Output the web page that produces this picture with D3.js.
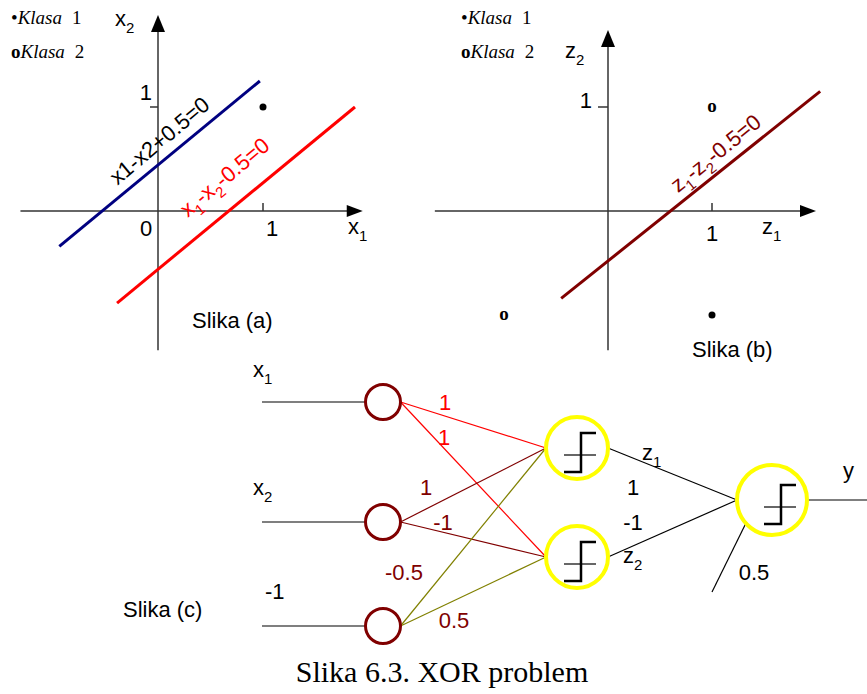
<!DOCTYPE html>
<html>
<head>
<meta charset="utf-8">
<script src="https://cdn.jsdelivr.net/npm/d3@7/dist/d3.min.js"></script>
<style>
  body { margin: 0; background: #fff; }
  svg { display: block; }
  .sans { font-family: Arial, "Liberation Sans", sans-serif; }
  .serif { font-family: "Times New Roman", "Liberation Serif", serif; }
</style>
</head>
<body>
<div class="plot"></div>
<script>
// ---- data ----
const axisTicks = [1];
const legendItems = ['Klasa', 'Klasa'];
const legendNumbers = ['1', '2'];

// panel (a): x1/x2 plane
const class1A = [[1, 1]];
const boundaryBlue = [[-0.94, -0.34], [0.97, 1.25]];   // x1-x2+0.5=0
const boundaryRed = [[-0.39, -0.885], [1.876, 1.0]];   // x1-x2-0.5=0

// panel (b): z1/z2 plane
const class1B = [[1, -1]];
const class2B = [[1, 1], [-1, -1]];
const boundaryB = [[-0.45, -0.84], [2.04, 1.15]];      // z1-z2-0.5=0

// panel (c): network
const inputLabels = [['x', '1'], ['x', '2'], ['-1', '']];
const hiddenWeights = [[1, 1], [1, -1], [-0.5, 0.5]];  // rows: x1, x2, bias
const outputWeights = [1, -1];
const outputBias = 0.5;

// ---- layout ----
const W = 867, H = 694;
const svg = d3.select('.plot').append('svg')
	.attr('width', W)
	.attr('height', H);

const axisColor = '#333';

// scales for the two planes
const xA = d3.scaleLinear().domain([0, 1]).range([158, 263]);
const yA = d3.scaleLinear().domain([0, 1]).range([211, 107]);
const xB = d3.scaleLinear().domain([0, 1]).range([608, 712]);
const yB = d3.scaleLinear().domain([0, 1]).range([211, 107]);

// text with subscripts: parts = [[text, isSub], ...]
function richText(g, x, y, parts, opts) {
	const size = opts.size || 22;
	const t = g.append('text')
		.attr('x', x)
		.attr('y', y)
		.attr('class', opts.cls || 'sans')
		.attr('font-size', size)
		.attr('fill', opts.color || '#000')
		.attr('text-anchor', opts.anchor || 'start');
	if (opts.rotate != null) t.attr('transform', `rotate(${opts.rotate},${x},${y})`);
	let shifted = false;
	parts.forEach(([s, sub]) => {
		if (!s) return;
		const ts = t.append('tspan').text(s);
		if (sub) {
			ts.attr('font-size', size * 0.68).attr('dy', shifted ? 0 : size * 0.3);
			shifted = true;
		} else {
			if (shifted) ts.attr('dy', -size * 0.3);
			shifted = false;
		}
	});
	return t;
}

function drawAxes(g, xs, ys, xExt, yExt, yTickLen) {
	const x0 = xs(0), y0 = ys(0);
	g.append('line')
		.attr('x1', xs(xExt[0])).attr('x2', xs(xExt[1]) - 12)
		.attr('y1', y0).attr('y2', y0)
		.attr('stroke', axisColor).attr('stroke-width', 1.5);
	g.append('line')
		.attr('x1', x0).attr('x2', x0)
		.attr('y1', ys(yExt[0])).attr('y2', ys(yExt[1]) + 12)
		.attr('stroke', axisColor).attr('stroke-width', 1.5);
	// arrowheads
	const xt = xs(xExt[1]), yt = ys(yExt[1]);
	g.append('path')
		.attr('d', `M${xt},${y0}L${xt - 16},${y0 - 6}L${xt - 16},${y0 + 6}Z`)
		.attr('fill', '#000');
	g.append('path')
		.attr('d', `M${x0},${yt}L${x0 - 7},${yt + 17}L${x0 + 7},${yt + 17}Z`)
		.attr('fill', '#000');
	// ticks
	g.selectAll('.xtick').data(axisTicks).enter().append('line')
		.attr('x1', d => xs(d)).attr('x2', d => xs(d))
		.attr('y1', y0).attr('y2', y0 - 8)
		.attr('stroke', axisColor).attr('stroke-width', 1.5);
	g.selectAll('.ytick').data(axisTicks).enter().append('line')
		.attr('x1', x0 - yTickLen).attr('x2', x0)
		.attr('y1', d => ys(d)).attr('y2', d => ys(d))
		.attr('stroke', axisColor).attr('stroke-width', 1.5);
}

function drawLegend(g, x) {
	const rows = g.selectAll('.legend').data(legendItems).enter().append('text')
		.attr('class', 'serif')
		.attr('x', x)
		.attr('y', (d, i) => 24 + i * 34)
		.attr('font-size', 19);
	rows.append('tspan')
		.attr('font-weight', (d, i) => i === 1 ? 'bold' : 'normal')
		.text((d, i) => i === 0 ? '\u2022' : 'o');
	rows.append('tspan').attr('font-style', 'italic').text(d => d);
	rows.append('tspan').attr('dx', 10).text((d, i) => legendNumbers[i]);
}

function drawLine(g, xs, ys, pts, color) {
	g.append('path')
		.attr('d', d3.line().x(d => xs(d[0])).y(d => ys(d[1]))(pts))
		.attr('fill', 'none')
		.attr('stroke', color)
		.attr('stroke-width', 3);
}

// ---- panel (a) ----
const gA = svg.append('g');
drawLegend(gA, 11);
drawAxes(gA, xA, yA, [-1.31, 1.95], [-1.34, 1.885], 8);
drawLine(gA, xA, yA, boundaryBlue, '#000080');
drawLine(gA, xA, yA, boundaryRed, '#ff0000');
gA.selectAll('.c1').data(class1A).enter().append('circle')
	.attr('cx', d => xA(d[0])).attr('cy', d => yA(d[1]))
	.attr('r', 3.5).attr('fill', '#000');

richText(gA, 115, 26, [['x', 0], ['2', 1]], {});
richText(gA, 152, 100, [['1', 0]], { anchor: 'end' });
richText(gA, 146, 236, [['0', 0]], { anchor: 'middle' });
richText(gA, 272, 236, [['1', 0]], { anchor: 'middle' });
richText(gA, 348, 234, [['x', 0], ['1', 1]], {});
richText(gA, 192, 328, [['Slika (a)', 0]], {});
richText(gA, xA(0.06), yA(0.62), [['x1-x2+0.5=0', 0]], { anchor: 'middle', rotate: -40 });
richText(gA, xA(0.68), yA(0.27), [['x', 0], ['1', 1], ['-x', 0], ['2', 1], ['-0.5=0', 0]],
	{ anchor: 'middle', rotate: -40, color: '#ff0000' });

// ---- panel (b) ----
const gB = svg.append('g');
drawLegend(gB, 461);
drawAxes(gB, xB, yB, [-1.665, 2.0], [-1.34, 1.74], 10);
drawLine(gB, xB, yB, boundaryB, '#800000');
gB.selectAll('.c1').data(class1B).enter().append('circle')
	.attr('cx', d => xB(d[0])).attr('cy', d => yB(d[1]))
	.attr('r', 3.5).attr('fill', '#000');
gB.selectAll('.c2').data(class2B).enter().append('text')
	.attr('class', 'serif')
	.attr('x', d => xB(d[0])).attr('y', d => yB(d[1]) + 4.5)
	.attr('text-anchor', 'middle')
	.attr('font-size', 19).attr('font-weight', 'bold')
	.text('o');

richText(gB, 565, 58, [['z', 0], ['2', 1]], {});
richText(gB, 592, 108, [['1', 0]], { anchor: 'end' });
richText(gB, 712, 241, [['1', 0]], { anchor: 'middle' });
richText(gB, 762, 234, [['z', 0], ['1', 1]], {});
richText(gB, 692, 357, [['Slika (b)', 0]], {});
richText(gB, xB(1.08), yB(0.5), [['z', 0], ['1', 1], ['-z', 0], ['2', 1], ['-0.5=0', 0]],
	{ anchor: 'middle', rotate: -39, color: '#800000' });

// ---- panel (c): network ----
const gC = svg.append('g');
const inNodes = { cx: 383, cy: [402, 522, 626], r: 17.5 };
const hidNodes = { cx: 577, cy: [448, 557], r: 31 };
const outNode = { cx: 772, cy: 500, r: 35 };
const edgeColors = ['#ff0000', '#800000', '#808000'];
const weightColors = ['#ff0000', '#800000', '#800000'];
const weightPos = [[[445, 410], [444, 445]], [[426, 495], [443, 530]], [[404, 580], [454, 628]]];
const inLabelPos = [[253, 377], [253, 495], [265, 599]];

// input lines
gC.selectAll('.inline').data(inNodes.cy).enter().append('line')
	.attr('x1', 262).attr('x2', inNodes.cx - inNodes.r)
	.attr('y1', d => d).attr('y2', d => d)
	.attr('stroke', '#000').attr('stroke-width', 1.2);

// input → hidden edges
hiddenWeights.forEach((row, i) => {
	row.forEach((w, j) => {
		gC.append('line')
			.attr('x1', inNodes.cx + inNodes.r).attr('y1', inNodes.cy[i])
			.attr('x2', hidNodes.cx - hidNodes.r).attr('y2', hidNodes.cy[j])
			.attr('stroke', edgeColors[i]).attr('stroke-width', 1.2);
		richText(gC, weightPos[i][j][0], weightPos[i][j][1], [[String(w), 0]],
			{ anchor: 'middle', color: weightColors[i] });
	});
});

// hidden → output edges
hidNodes.cy.forEach(cy => {
	gC.append('line')
		.attr('x1', hidNodes.cx + hidNodes.r).attr('y1', cy)
		.attr('x2', outNode.cx - outNode.r).attr('y2', outNode.cy)
		.attr('stroke', '#000').attr('stroke-width', 1.2);
});
// bias into output
gC.append('line')
	.attr('x1', 712).attr('y1', 592).attr('x2', 746).attr('y2', 523)
	.attr('stroke', '#000').attr('stroke-width', 1.2);
// output line
gC.append('line')
	.attr('x1', outNode.cx + outNode.r).attr('x2', W)
	.attr('y1', outNode.cy).attr('y2', outNode.cy)
	.attr('stroke', '#000').attr('stroke-width', 1.2);

// nodes
gC.selectAll('.in').data(inNodes.cy).enter().append('circle')
	.attr('cx', inNodes.cx).attr('cy', d => d).attr('r', inNodes.r)
	.attr('fill', '#fff').attr('stroke', '#800000').attr('stroke-width', 3);

function stepGlyph(cx, cy, dx) {
	gC.append('path')
		.attr('d', `M${cx - 13 + dx},${cy + 24}H${cx + 4 + dx}V${cy - 15}H${cx + 19 + dx}`)
		.attr('fill', 'none').attr('stroke', '#000').attr('stroke-width', 2.5);
	gC.append('line')
		.attr('x1', cx - 13 + dx).attr('x2', cx + 19 + dx)
		.attr('y1', cy + 7).attr('y2', cy + 7)
		.attr('stroke', '#000').attr('stroke-width', 1.2);
}

gC.selectAll('.hid').data(hidNodes.cy).enter().append('circle')
	.attr('cx', hidNodes.cx).attr('cy', d => d).attr('r', hidNodes.r)
	.attr('fill', '#fff').attr('stroke', '#ffff00').attr('stroke-width', 4);
hidNodes.cy.forEach(cy => stepGlyph(hidNodes.cx, cy, 0));

gC.append('circle')
	.attr('cx', outNode.cx).attr('cy', outNode.cy).attr('r', outNode.r)
	.attr('fill', '#fff').attr('stroke', '#ffff00').attr('stroke-width', 4);
stepGlyph(outNode.cx, outNode.cy, 5);

// labels
inputLabels.forEach((d, i) => {
	richText(gC, inLabelPos[i][0], inLabelPos[i][1], [[d[0], 0], [d[1], 1]], {});
});
richText(gC, 642, 460, [['z', 0], ['1', 1]], {});
richText(gC, 623, 563, [['z', 0], ['2', 1]], {});
richText(gC, 633, 495, [[String(outputWeights[0]), 0]], { anchor: 'middle' });
richText(gC, 633, 530, [[String(outputWeights[1]), 0]], { anchor: 'middle' });
richText(gC, 754, 580, [[String(outputBias), 0]], { anchor: 'middle' });
richText(gC, 843, 478, [['y', 0]], {});
richText(gC, 123, 617, [['Slika (c)', 0]], {});

// caption
svg.append('text')
	.attr('class', 'serif')
	.attr('x', 442).attr('y', 682)
	.attr('text-anchor', 'middle')
	.attr('font-size', 30)
	.text('Slika 6.3. XOR problem');
</script>
</body>
</html>
